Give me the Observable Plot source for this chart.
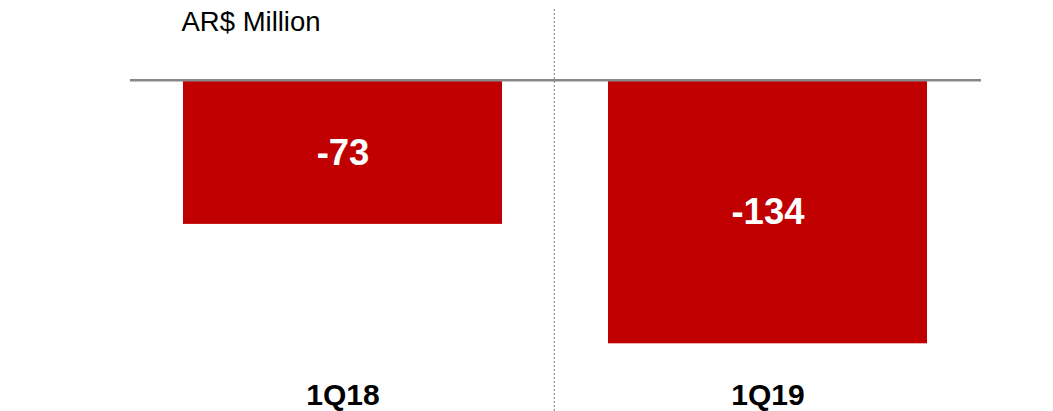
<!DOCTYPE html>
<html>
<head>
<meta charset="utf-8">
<script src="https://cdn.jsdelivr.net/npm/d3@7"></script>
<script src="https://cdn.jsdelivr.net/npm/@observablehq/plot@0.6"></script>
<style>
  html, body { margin: 0; padding: 0; background: #fff; }
  #chart svg { display: block; }
</style>
</head>
<body>
<div id="chart"></div>
<script>
const categories = ["1Q18", "1Q19"];
const values = [-73, -134];
const unitLabel = "AR$ Million";

const data = categories.map((c, i) => ({ period: c, value: values[i] }));

const W = 1053, H = 411;
const mL = 130, mR = 72;
const padInner = 0.2485;
const step = (W - mL - mR) / 2;
const font = "'Liberation Sans', Arial, Helvetica, sans-serif";

const plot = Plot.plot({
  width: W,
  height: H,
  marginLeft: mL,
  marginRight: mR,
  marginTop: 9,
  marginBottom: 0,
  style: { fontFamily: font, background: "#fff", overflow: "visible" },
  x: { type: "band", domain: categories, paddingInner: padInner, paddingOuter: padInner / 2, axis: null },
  y: { domain: [0, -134], range: [81, 343.3], axis: null },
  marks: [
    Plot.ruleX([categories[1]], { x: d => d, dx: -step / 2 - 1, stroke: "#7a7a7a", strokeWidth: 1, strokeDasharray: "2,2" }),
    Plot.barY(data, { x: "period", y: "value", fill: "#C00000" }),
    Plot.ruleY([0], { stroke: "#888888", strokeWidth: 2.5, dy: -1.3 }),
    Plot.text(data, { x: "period", y: d => d.value / 2, text: d => String(d.value), fill: "#ffffff", fontSize: 36.5, fontWeight: "bold", lineAnchor: "middle" }),
    Plot.text(categories, { x: d => d, frameAnchor: "bottom", text: d => d, fill: "#000", fontSize: 30, fontWeight: "bold", lineAnchor: "middle", dy: -16 }),
    Plot.text([unitLabel], { frameAnchor: "top-left", text: d => d, textAnchor: "start", lineAnchor: "top", fill: "#000", fontSize: 27.5, dx: 51, dy: 2 })
  ]
});

document.getElementById("chart").appendChild(plot);
</script>
</body>
</html>
